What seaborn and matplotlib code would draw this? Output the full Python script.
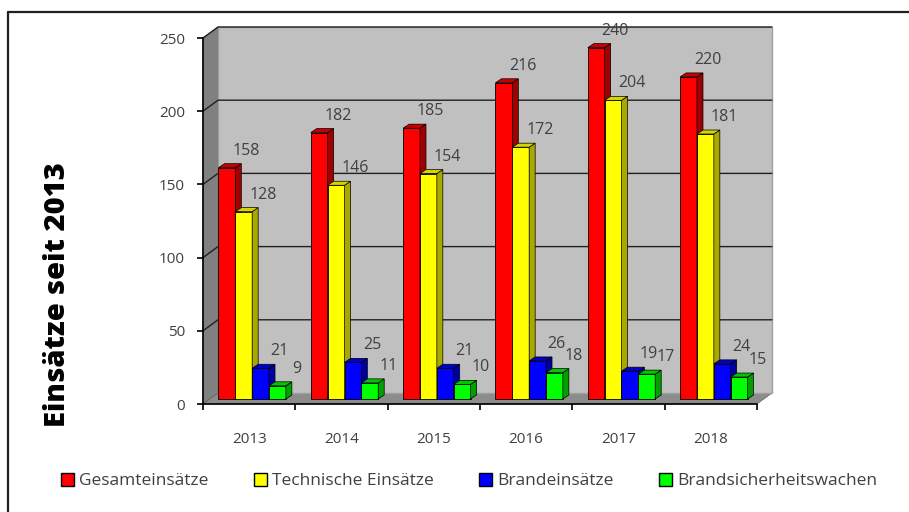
import matplotlib
matplotlib.use("Agg")
import matplotlib.pyplot as plt
from matplotlib.patches import Polygon, Patch
from matplotlib.lines import Line2D
import seaborn as sns
import pandas as pd

# data
years = ["2013", "2014", "2015", "2016", "2017", "2018"]
gesamt = [158, 182, 185, 216, 240, 220]
technisch = [128, 146, 154, 172, 204, 181]
brand = [21, 25, 21, 26, 19, 24]
wachen = [9, 11, 10, 18, 17, 15]
series = ["Gesamteinsätze", "Technische Einsätze", "Brandeinsätze", "Brandsicherheitswachen"]
front_colors = ["#FF0000", "#FFFF00", "#0000FF", "#00FF00"]
side_colors = ["#A00000", "#A8A800", "#0000A0", "#00A000"]
top_colors = ["#C80000", "#D4D400", "#0000C8", "#00C800"]

df = pd.DataFrame({
    "Jahr": years * 4,
    "Anzahl": gesamt + technisch + brand + wachen,
    "Art": [s for s in series for _ in years],
})

sns.set_style("white")
plt.rcParams["font.family"] = ["Open Sans", "DejaVu Sans"]
text_col = "#404040"

W, H, DPI = 909, 512, 100
fig = plt.figure(figsize=(W / DPI, H / DPI), dpi=DPI)
# axes = front plane of the 3D box
ax = fig.add_axes([203 / W, (H - 404) / H, (757 - 203) / W, (404 - 38) / H])
ax.set_facecolor("none")

sns.barplot(data=df, x="Jahr", y="Anzahl", hue="Art", palette=front_colors,
            width=0.73, edgecolor="black", linewidth=0.6, saturation=1,
            legend=False, ax=ax)
ax.set_xlim(-0.5, 5.5)
ax.set_ylim(0, 250)

# pixel -> data conversion
ppx = (757 - 203) / 6.0
ppy = (404 - 38) / 250.0
def dx(p):
    return p / ppx
def dy(p):
    return p / ppy

# depth of the box (back wall offset) and bar offsets
DX, DY = dx(15), dy(11)
BX, BY = dx(3), dy(5)
SX, SY = dx(6), dy(4)

x0, x1 = -0.5, 5.5
# left wall
ax.add_patch(Polygon([(x0, 0), (x0 + DX, DY), (x0 + DX, 250 + DY), (x0, 250)],
                     closed=True, facecolor="#808080", edgecolor="#606060",
                     lw=0.5, zorder=0.1, clip_on=False))
# floor
ax.add_patch(Polygon([(x0, 0), (x1, 0), (x1 + DX, DY), (x0 + DX, DY)],
                     closed=True, facecolor="#8C8C8C", edgecolor="#606060",
                     lw=0.5, zorder=0.1, clip_on=False))
# back wall
ax.add_patch(Polygon([(x0 + DX, DY), (x1 + DX, DY), (x1 + DX, 250 + DY), (x0 + DX, 250 + DY)],
                     closed=True, facecolor="#C0C0C0", edgecolor="#A0A0A0",
                     lw=1, zorder=0.1, clip_on=False))
# gridlines on back wall and left wall
for v in [50, 100, 150, 200, 250]:
    ax.plot([x0, x0 + DX, x1 + DX], [v, v + DY, v + DY], color="#202020",
            lw=1, zorder=0.2, clip_on=False)

# shift bars and add 3D top/side faces
for i, cont in enumerate(ax.containers):
    for bar in cont:
        bx, by = bar.get_x() + BX, BY
        bw, bh = bar.get_width(), bar.get_height()
        bar.set_x(bx)
        bar.set_y(by)
        bar.set_zorder(2 + i * 0.1)
        bar.set_clip_on(False)
        xr, yt = bx + bw, by + bh
        ax.add_patch(Polygon([(xr, by), (xr + SX, by + SY), (xr + SX, yt + SY), (xr, yt)],
                             closed=True, facecolor=side_colors[i], edgecolor="black",
                             lw=0.5, zorder=2 + i * 0.1 + 0.01, clip_on=False))
        ax.add_patch(Polygon([(bx, yt), (xr, yt), (xr + SX, yt + SY), (bx + SX, yt + SY)],
                             closed=True, facecolor=top_colors[i], edgecolor="black",
                             lw=0.5, zorder=2 + i * 0.1 + 0.01, clip_on=False))
        ax.annotate(f"{int(bh)}", (bx + bw / 2, yt), xytext=(19, 17),
                    textcoords="offset pixels", ha="center", va="center",
                    fontsize=11.5, color=text_col, zorder=5, annotation_clip=False)

# axes lines and ticks
for s in ["top", "right"]:
    ax.spines[s].set_visible(False)
for s in ["left", "bottom"]:
    ax.spines[s].set_color("black")
    ax.spines[s].set_linewidth(1.2)
ax.set_yticks([0, 50, 100, 150, 200, 250])
ax.tick_params(axis="y", length=4, width=1.2, color="black", pad=9,
               labelsize=11, labelcolor=text_col, left=True)
ax.set_xticks(range(6))
ax.set_xticklabels(years)
ax.set_xticks([k - 0.5 for k in range(7)], minor=True)
ax.tick_params(axis="x", which="major", length=0, pad=20, labelsize=11,
               labelcolor=text_col)
ax.tick_params(axis="x", which="minor", length=4, width=1.2, color="black",
               bottom=True)
ax.set_xlabel("")
ax.set_ylabel("")
ax.grid(False)

fig.text(58 / W, (H - 295) / H, "Einsätze seit 2013", rotation=90,
         ha="center", va="center", fontsize=21, fontweight="heavy", color="black")

handles = [Patch(facecolor=c, edgecolor="black", linewidth=1) for c in front_colors]
fig.legend(handles, series, loc="center", bbox_to_anchor=(469 / W, (H - 481) / H),
           ncol=4, frameon=False, fontsize=12.5, labelcolor=text_col,
           handlelength=0.75, handleheight=0.75, handletextpad=0.3,
           columnspacing=2.6)

# outer frame lines (top and left)
fig.add_artist(Line2D([8 / W, 1], [(H - 12) / H] * 2, color="#202020", lw=1.6))
fig.add_artist(Line2D([8 / W] * 2, [0, (H - 12) / H], color="#202020", lw=1.6))

fig.savefig("out.png", dpi=DPI)
